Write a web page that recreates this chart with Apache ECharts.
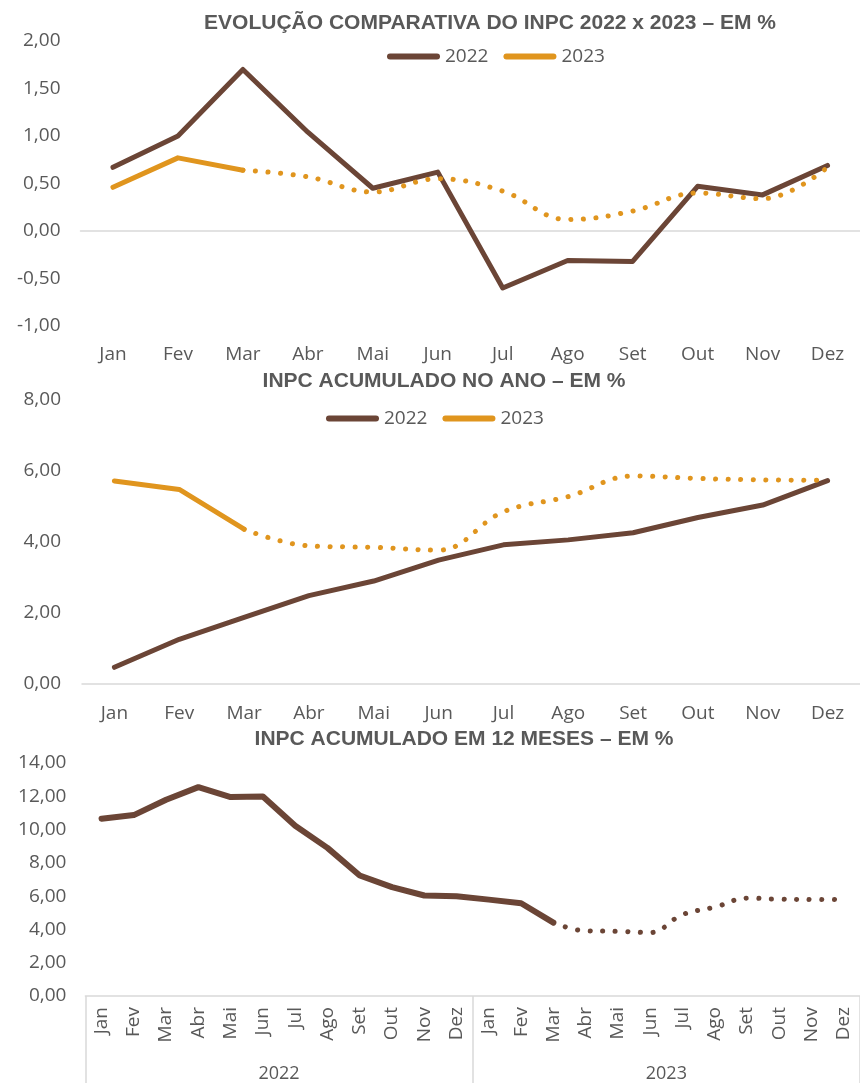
<!DOCTYPE html>
<html><head><meta charset="utf-8">
<script src="https://cdn.jsdelivr.net/npm/echarts@6/dist/echarts.min.js"></script>
<style>html,body{margin:0;padding:0;background:#fff}#c{width:860px;height:1083px}</style>
</head><body><div id="c"></div>
<script>
// ---------- DATA ----------
const meses = ['Jan','Fev','Mar','Abr','Mai','Jun','Jul','Ago','Set','Out','Nov','Dez'];
const anos = ['2022','2023'];
const titulos = [
  'EVOLUÇÃO COMPARATIVA DO INPC 2022 x 2023 – EM %',
  'INPC ACUMULADO NO ANO – EM %',
  'INPC ACUMULADO EM 12 MESES – EM %'
];
const mensal2022 = [0.67, 1.00, 1.70, 1.04, 0.45, 0.62, -0.60, -0.31, -0.32, 0.47, 0.38, 0.69];
const mensal2023 = [0.46, 0.77, 0.64, 0.57, 0.41, 0.55, 0.42, 0.12, 0.21, 0.40, 0.34, 0.67];
const acumAno2022 = [0.47, 1.26, 1.88, 2.49, 2.90, 3.49, 3.92, 4.06, 4.26, 4.69, 5.04, 5.73];
const acumAno2023 = [5.72, 5.48, 4.36, 3.89, 3.85, 3.77, 4.85, 5.28, 5.86, 5.79, 5.75, 5.74];
const acum12m2022 = [10.65, 10.87, 11.79, 12.55, 11.95, 11.99, 10.23, 8.90, 7.24, 6.54, 6.04, 6.00];
const acum12m2023 = [5.79, 5.57, 4.41, 3.91, 3.89, 3.81, 4.89, 5.34, 5.88, 5.82, 5.80, 5.79];
const observados2023 = 3; // Jan–Mar 2023 realizados (linha contínua), resto pontilhado

// ---------- STYLE ----------
const MARROM = '#6b4536', LARANJA = '#e0951e', TXT = '#595959', EIXO = '#d9d9d9';
const FONT = '"Open Sans", "Noto Sans", sans-serif';
const TFONT = '"Liberation Sans", Arial, sans-serif';
const solid = (arr, n) => arr.map((v, i) => i < n ? v : '-');
const dotted = (arr, n) => arr.map((v, i) => i >= n - 1 ? v : '-');
const fmt = v => v.toFixed(2).replace('.', ',');
const pill = 'path://M3,0 L50,0 A3,3 0 0 1 50,6 L3,6 A3,3 0 0 1 3,0 Z';

function lineSeries(name, data, color, x, y, w, isDotted, z) {
  return {
    name, type: 'line', xAxisIndex: x, yAxisIndex: y, data,
    symbol: 'none', color, smooth: isDotted ? 0.4 : false, z: z || 2,
    lineStyle: isDotted ? { color, width: 5, type: [0.1, 12.5], cap: 'round' }
                        : { color, width: w, cap: 'round', join: 'round' },
    connectNulls: false, animation: false
  };
}
function yAx(grid, min, max, interval, margin) {
  return { gridIndex: grid, type: 'value', min, max, interval,
    axisLine: { show: false }, axisTick: { show: false }, splitLine: { show: false },
    axisLabel: { formatter: fmt, color: TXT, fontSize: 19, fontFamily: FONT, margin } };
}
const legendCfg = (left, top) => ({
  data: anos, left, top, padding: 0, itemWidth: 53, itemHeight: 6, itemGap: 15,
  icon: pill, textStyle: { color: TXT, fontSize: 19, fontFamily: FONT }, selectedMode: false
});
const titleCfg = (text, left, top) => ({
  text, left, top, textAlign: 'center', padding: 0,
  textStyle: { color: TXT, fontSize: 21, fontWeight: 'bold', fontFamily: TFONT }
});

const meses24 = meses.concat(meses);
const serie12m = acum12m2022.concat(acum12m2023);
const n12 = meses.length + observados2023;

const option = {
  backgroundColor: '#fff',
  animation: false,
  title: [titleCfg(titulos[0], 490, 13), titleCfg(titulos[1], 444, 371), titleCfg(titulos[2], 464, 729)],
  legend: [legendCfg(387, 47), legendCfg(326, 409)],
  grid: [
    { left: 80.5, right: -8.5, top: 41, height: 285 },
    { left: 82, right: -15, top: 400, height: 284 },
    { left: 85.4, right: -8, top: 763, height: 234 }
  ],
  xAxis: [
    { gridIndex: 0, type: 'category', data: meses, position: 'bottom',
      axisLine: { show: false, onZero: false }, axisTick: { show: false },
      axisLabel: { color: TXT, fontSize: 19, fontFamily: FONT, margin: 19 } },
    { gridIndex: 0, type: 'category', data: meses, position: 'bottom',
      axisLine: { show: true, onZero: true, lineStyle: { color: EIXO, width: 1.5 } },
      axisTick: { show: false }, axisLabel: { show: false } },
    { gridIndex: 1, type: 'category', data: meses, position: 'bottom',
      axisLine: { show: true, lineStyle: { color: EIXO, width: 1.5 } }, axisTick: { show: false },
      axisLabel: { color: TXT, fontSize: 19, fontFamily: FONT, margin: 20 } },
    { gridIndex: 2, type: 'category', data: meses24, position: 'bottom',
      axisLine: { show: true, lineStyle: { color: EIXO, width: 1.5 } }, axisTick: { show: false },
      axisLabel: { color: TXT, fontSize: 19, fontFamily: FONT, margin: 11, rotate: 90, interval: 0 } },
    { gridIndex: 2, type: 'category', data: anos, position: 'bottom',
      axisLine: { show: false }, axisTick: { show: true, length: 90, interval: 0, lineStyle: { color: EIXO, width: 1.5 } },
      axisLabel: { color: TXT, fontSize: 18, fontFamily: FONT, margin: 69 } }
  ],
  yAxis: [ yAx(0, -1, 2, 0.5, 20), yAx(1, 0, 8, 2, 21), yAx(2, 0, 14, 2, 19) ],
  series: [
    lineSeries('2022', mensal2022, MARROM, 0, 0, 5, false, 3),
    lineSeries('2023', solid(mensal2023, observados2023), LARANJA, 0, 0, 5, false, 2),
    lineSeries('2023 projeção', dotted(mensal2023, observados2023), LARANJA, 0, 0, 5, true, 4),
    lineSeries('2022', acumAno2022, MARROM, 2, 1, 5, false, 3),
    lineSeries('2023', solid(acumAno2023, observados2023), LARANJA, 2, 1, 5, false, 2),
    lineSeries('2023 projeção', dotted(acumAno2023, observados2023), LARANJA, 2, 1, 5, true, 4),
    lineSeries('12 meses', solid(serie12m, n12), MARROM, 3, 2, 6, false, 3),
    lineSeries('12 meses projeção', dotted(serie12m, n12), MARROM, 3, 2, 6, true, 3)
  ]
};
const chart = echarts.init(document.getElementById('c'), null, { renderer: 'canvas' });
chart.setOption(option);
</script></body></html>
